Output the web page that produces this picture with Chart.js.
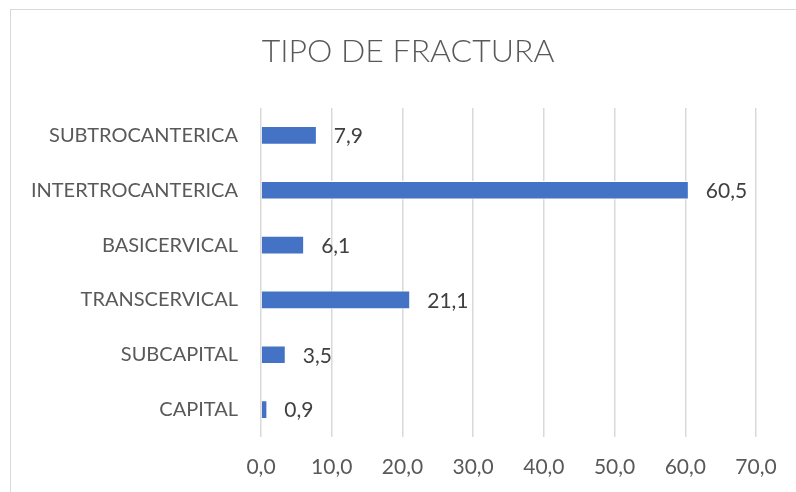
<!DOCTYPE html>
<html>
<head>
<meta charset="utf-8">
<script src="https://cdn.jsdelivr.net/npm/chart.js@4"></script>
<style>
  html, body { margin: 0; padding: 0; background: #fff; }
  #wrap { width: 796px; height: 492px; }
</style>
</head>
<body>
<div id="wrap"><canvas id="chart" width="796" height="492"></canvas></div>
<script>
const titleText = "TIPO DE FRACTURA";
const categories = ["SUBTROCANTERICA", "INTERTROCANTERICA", "BASICERVICAL", "TRANSCERVICAL", "SUBCAPITAL", "CAPITAL"];
const percentages = [7.9, 60.5, 6.1, 21.1, 3.5, 0.9];
const axisMin = 0, axisMax = 70, axisStep = 10;

const fontFamily = "Lato, 'Open Sans', sans-serif";
const fmt = v => Number(v).toFixed(1).replace('.', ',');

// frame + title, the way the spreadsheet draws them
const framePlugin = {
    id: 'frame',
    beforeDraw(chart) {
        const ctx = chart.ctx;
        ctx.save();
        ctx.fillStyle = '#fff';
        ctx.fillRect(0, 0, chart.width, chart.height);
        ctx.strokeStyle = '#d9d9d9';
        ctx.lineWidth = 1;
        ctx.strokeRect(10.5, 9.5, 900, 600);
        ctx.restore();
    },
    afterDraw(chart) {
        const ctx = chart.ctx;
        ctx.save();
        ctx.font = "300 32px " + fontFamily;
        ctx.fillStyle = '#595959';
        ctx.textAlign = 'center';
        ctx.textBaseline = 'middle';
        ctx.fillText(titleText, 408, 52);
        ctx.restore();
    }
};

// value labels at the end of each bar
const valueLabels = {
    id: 'valueLabels',
    afterDatasetsDraw(chart) {
        const ctx = chart.ctx;
        const meta = chart.getDatasetMeta(0);
        ctx.save();
        ctx.font = "21px " + fontFamily;
        ctx.fillStyle = '#404040';
        ctx.textAlign = 'left';
        ctx.textBaseline = 'middle';
        meta.data.forEach((bar, i) => {
            ctx.fillText(fmt(chart.data.datasets[0].data[i]), bar.x + 17, bar.y + 1);
        });
        ctx.restore();
    }
};

new Chart(document.getElementById('chart').getContext('2d'), {
    type: 'bar',
    data: {
        labels: categories,
        datasets: [{
            data: percentages,
            backgroundColor: '#4472c4',
            borderColor: '#ffffff',
            borderWidth: 1,
            categoryPercentage: 1,
            barPercentage: 0.34
        }]
    },
    options: {
        indexAxis: 'y',
        responsive: false,
        animation: false,
        layout: { padding: { top: 108, right: 40, bottom: 0, left: 0 } },
        scales: {
            x: {
                min: axisMin,
                max: axisMax,
                grid: { color: '#d9d9d9', lineWidth: 1.5, drawTicks: false },
                border: { display: false },
                ticks: {
                    stepSize: axisStep,
                    padding: 18,
                    color: '#595959',
                    font: { family: fontFamily, size: 21 },
                    callback: v => fmt(v)
                },
                afterFit(scale) { scale.height = 55; }
            },
            y: {
                grid: { display: false, drawTicks: false },
                border: { display: false },
                ticks: {
                    padding: 23,
                    color: '#595959',
                    font: { family: fontFamily, size: 20 }
                },
                afterFit(scale) { scale.width = 261; }
            }
        },
        plugins: {
            legend: { display: false },
            title: { display: false },
            tooltip: { enabled: false }
        }
    },
    plugins: [framePlugin, valueLabels]
});
</script>
</body>
</html>
